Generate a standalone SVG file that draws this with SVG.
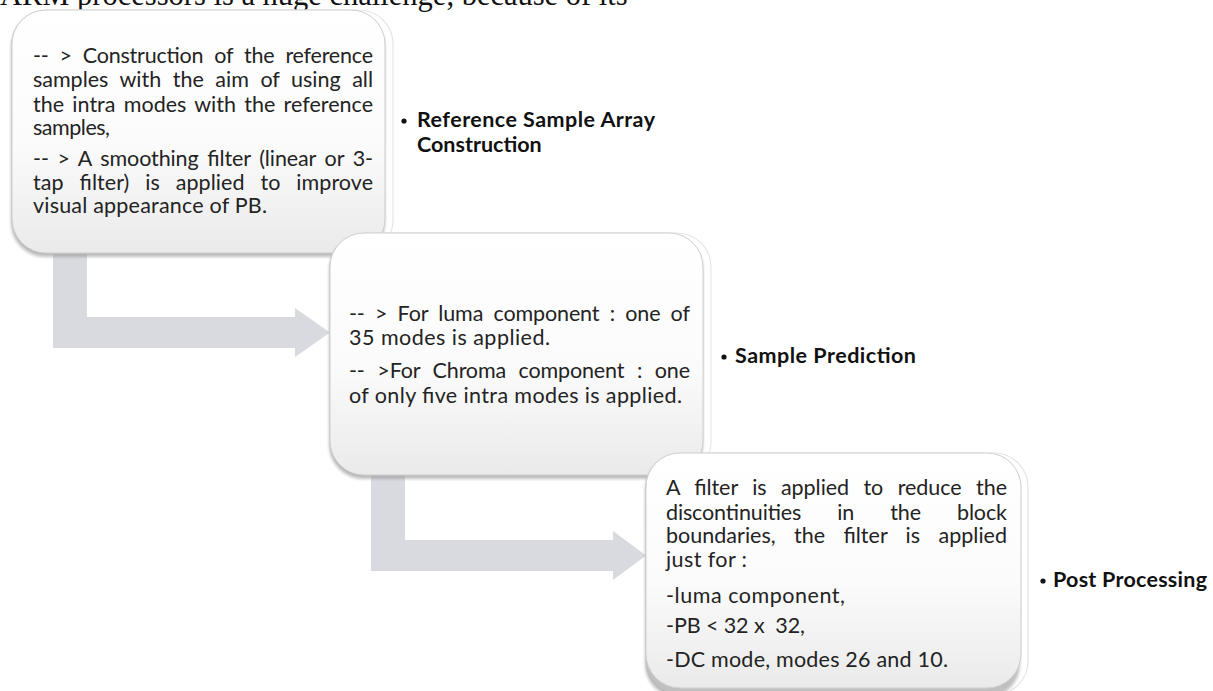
<svg xmlns="http://www.w3.org/2000/svg" width="1213" height="691" viewBox="0 0 1213 691">
  <style>
    .body { font-family: Lato, "Liberation Sans", sans-serif; font-size: 21.5px; fill: #232323; }
    .label { font-family: Lato, "Liberation Sans", sans-serif; font-size: 21.5px; font-weight: bold; fill: #111111; }
    .intro { font-family: "Liberation Serif", serif; font-size: 30.5px; fill: #111111; }
    .card { fill: url(#cardFill); stroke: #cfcfcf; stroke-width: 1; }
    .halo { fill: none; stroke: #e6e6e6; stroke-width: 1.2; }
    .drop { fill: #8e8e8e; opacity: 0.55; filter: url(#blur); }
    .arrow { fill: #d9dadf; }
    .bullet { fill: #111111; }
  </style>
  <defs>
    <linearGradient id="cardFill" x1="0" y1="0" x2="0" y2="1">
      <stop offset="0" stop-color="#ffffff"/>
      <stop offset="0.55" stop-color="#fbfbfb"/>
      <stop offset="1" stop-color="#eaeaea"/>
    </linearGradient>
    <filter id="blur" x="-5%" y="-5%" width="110%" height="110%">
      <feGaussianBlur stdDeviation="1.6"/>
    </filter>
  </defs>

  <rect width="1213" height="691" fill="#ffffff"/>

  <!-- running text line from the page above -->
  <g id="intro-line">
    <text class="intro" x="0" y="5">ARM processors is a huge challenge, because of its</text>
  </g>

  <!-- bent block arrows between the steps -->
  <g id="connectors">
    <path class="arrow" d="M53,254 H87 V317 H295 V308 L330,332.5 L295,357 V348 H53 Z"/>
    <path class="arrow" d="M371,474 H405 V540 H613 V531 L646,555.5 L613,580 V571 H371 Z"/>
  </g>

  <!-- step 1 -->
  <g id="step-reference-sample">
    <rect class="halo" x="12" y="10" width="381" height="244" rx="34"/>
    <rect class="drop" x="11" y="13" width="374" height="244" rx="34"/>
    <rect class="card" x="12" y="10" width="373" height="243" rx="34"/>
    <text class="body" x="33" y="63" word-spacing="5.7" textLength="340" lengthAdjust="spacing">-- &gt; Construction of the reference</text>
    <text class="body" x="33" y="87" word-spacing="6.1" textLength="340" lengthAdjust="spacing">samples with the aim of using all</text>
    <text class="body" x="33" y="112" word-spacing="2.7" textLength="340" lengthAdjust="spacing">the intra modes with the reference</text>
    <text class="body" x="33" y="135" textLength="77" lengthAdjust="spacing">samples,</text>
    <text class="body" x="33" y="166" word-spacing="3.3" textLength="340" lengthAdjust="spacing">-- &gt; A smoothing filter (linear or 3-</text>
    <text class="body" x="33" y="190" word-spacing="10.3" textLength="340" lengthAdjust="spacing">tap filter) is applied to improve</text>
    <text class="body" x="33" y="213" textLength="234" lengthAdjust="spacing">visual appearance of PB.</text>
    <circle class="bullet" cx="404" cy="121" r="2.6"/>
    <text class="label" x="417" y="127" textLength="238" lengthAdjust="spacing">Reference Sample Array</text>
    <text class="label" x="417" y="152">Construction</text>
  </g>

  <!-- step 2 -->
  <g id="step-sample-prediction">
    <rect class="halo" x="330" y="233" width="381" height="243" rx="34"/>
    <rect class="drop" x="329" y="236" width="374" height="243" rx="34"/>
    <rect class="card" x="330" y="233" width="373" height="242" rx="34"/>
    <text class="body" x="349" y="321" word-spacing="4.9" textLength="341" lengthAdjust="spacing">-- &gt; For luma component : one of</text>
    <text class="body" x="349" y="345" textLength="201" lengthAdjust="spacing">35 modes is applied.</text>
    <text class="body" x="349" y="378" word-spacing="7.3" textLength="341" lengthAdjust="spacing">-- &gt;For Chroma component : one</text>
    <text class="body" x="349" y="403" textLength="333" lengthAdjust="spacing">of only five intra modes is applied.</text>
    <circle class="bullet" cx="724" cy="357" r="2.6"/>
    <text class="label" x="735" y="363" textLength="181" lengthAdjust="spacing">Sample Prediction</text>
  </g>

  <!-- step 3 -->
  <g id="step-post-processing">
    <rect class="halo" x="646" y="453" width="382" height="242" rx="34"/>
    <rect class="drop" x="645" y="456" width="375" height="242" rx="34"/>
    <rect class="card" x="646" y="453" width="375" height="235" rx="34"/>
    <text class="body" x="666" y="495" word-spacing="8.9" textLength="341" lengthAdjust="spacing">A filter is applied to reduce the</text>
    <text class="body" x="666" y="520" word-spacing="30.7" textLength="341" lengthAdjust="spacing">discontinuities in the block</text>
    <text class="body" x="666" y="543" word-spacing="12.8" textLength="341" lengthAdjust="spacing">boundaries, the filter is applied</text>
    <text class="body" x="666" y="567" textLength="81" lengthAdjust="spacing">just for :</text>
    <text class="body" x="666" y="603" textLength="179" lengthAdjust="spacing">-luma component,</text>
    <text class="body" x="666" y="633" textLength="139" lengthAdjust="spacing" xml:space="preserve">-PB &lt; 32 x  32,</text>
    <text class="body" x="666" y="667" textLength="282" lengthAdjust="spacing">-DC mode, modes 26 and 10.</text>
    <circle class="bullet" cx="1043" cy="581" r="2.6"/>
    <text class="label" x="1053" y="587" textLength="154" lengthAdjust="spacing">Post Processing</text>
  </g>
</svg>
